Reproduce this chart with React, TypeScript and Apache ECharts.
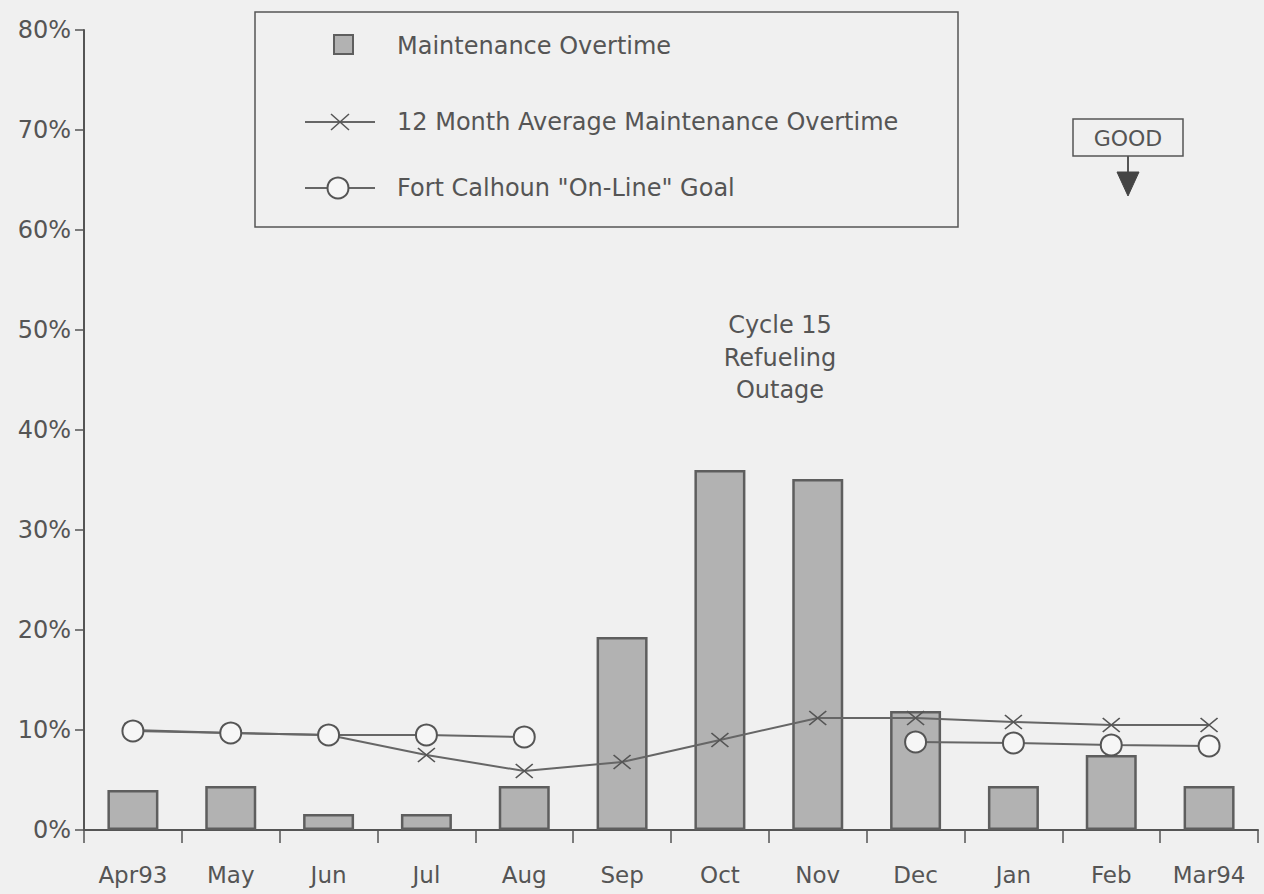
import React, { useEffect, useRef } from "react";
import * as echarts from "echarts";

const months = ["Apr93", "May", "Jun", "Jul", "Aug", "Sep", "Oct", "Nov", "Dec", "Jan", "Feb", "Mar94"];
const overtime = [4.0, 4.4, 1.6, 1.6, 4.4, 19.3, 36.0, 35.1, 11.9, 4.4, 7.5, 4.4];
const avg12 = [10.0, 9.7, 9.5, 7.5, 5.9, 6.8, 9.0, 11.2, 11.2, 10.8, 10.5, 10.5];
const goal: (number | null)[] = [9.9, 9.7, 9.5, 9.5, 9.3, null, null, null, 8.8, 8.7, 8.5, 8.4];
const yTicks = { min: 0, max: 80, interval: 10 };

const FONT = "DejaVu Sans";
const INK = "#555555";
const BG = "#f0f0f0";
const BARFILL = "#b2b2b2";
const XPATH = "path://M0,0L16,13M16,0L0,13";

export default function App() {
  const ref = useRef<HTMLDivElement>(null);
  useEffect(() => {
    if (!ref.current) return;
    const chart = echarts.init(ref.current, null, { renderer: "svg" });
    const txt = (text: string, x: number, y: number, size = 24, align = "left") => ({
      type: "text",
      x,
      y,
      style: {
        text,
        font: `${size}px "${FONT}"`,
        fill: INK,
        textAlign: align,
        textVerticalAlign: "middle",
      },
    });
    chart.setOption({
      animation: false,
      backgroundColor: BG,
      textStyle: { fontFamily: FONT, color: INK },
      grid: { left: 84, top: 30, right: 6, bottom: 64, containLabel: false },
      xAxis: {
        type: "category",
        data: months,
        boundaryGap: true,
        axisLine: { lineStyle: { color: INK, width: 2 } },
        axisTick: { show: true, length: 13, lineStyle: { color: INK, width: 1.5 } },
        axisLabel: { color: INK, fontSize: 23, fontFamily: FONT, margin: 33, interval: 0 },
        splitLine: { show: false },
      },
      yAxis: {
        type: "value",
        min: yTicks.min,
        max: yTicks.max,
        interval: yTicks.interval,
        axisLine: { show: true, lineStyle: { color: INK, width: 2 } },
        axisTick: { show: true, length: 9, lineStyle: { color: INK, width: 1.5 } },
        axisLabel: { color: INK, fontSize: 24, fontFamily: FONT, margin: 13, formatter: "{value}%" },
        splitLine: { show: false },
      },
      series: [
        {
          name: "Maintenance Overtime",
          type: "bar",
          data: overtime,
          barWidth: 51,
          itemStyle: { color: BARFILL, borderColor: "#5e5e5e", borderWidth: 2.5 },
          z: 2,
        },
        {
          name: "12 Month Average Maintenance Overtime",
          type: "line",
          data: avg12,
          symbol: XPATH,
          symbolSize: [17, 14],
          showAllSymbol: true,
          itemStyle: { color: "none", borderColor: INK, borderWidth: 1.5 },
          lineStyle: { color: "#666", width: 2 },
          z: 3,
        },
        {
          name: "Fort Calhoun \"On-Line\" Goal",
          type: "line",
          data: goal,
          connectNulls: false,
          symbol: "circle",
          symbolSize: 21,
          showAllSymbol: true,
          itemStyle: { color: "#f6f6f6", borderColor: INK, borderWidth: 2 },
          lineStyle: { color: "#666", width: 2 },
          z: 4,
        },
      ],
      graphic: [
        {
          type: "rect",
          shape: { x: 255, y: 12, width: 703, height: 215 },
          style: { fill: "none", stroke: INK, lineWidth: 1.5 },
        },
        {
          type: "rect",
          shape: { x: 334, y: 35, width: 19, height: 19 },
          style: { fill: BARFILL, stroke: "#5e5e5e", lineWidth: 2 },
        },
        txt("Maintenance Overtime", 397, 46),
        {
          type: "line",
          shape: { x1: 305, y1: 122, x2: 375, y2: 122 },
          style: { stroke: "#666", lineWidth: 2 },
        },
        {
          type: "line",
          shape: { x1: 331, y1: 114, x2: 349, y2: 130 },
          style: { stroke: INK, lineWidth: 1.5 },
        },
        {
          type: "line",
          shape: { x1: 349, y1: 114, x2: 331, y2: 130 },
          style: { stroke: INK, lineWidth: 1.5 },
        },
        txt("12 Month Average Maintenance Overtime", 397, 122),
        {
          type: "line",
          shape: { x1: 305, y1: 188, x2: 375, y2: 188 },
          style: { stroke: "#666", lineWidth: 2 },
        },
        {
          type: "circle",
          shape: { cx: 338, cy: 188, r: 10.5 },
          style: { fill: "#f6f6f6", stroke: INK, lineWidth: 2 },
        },
        txt("Fort Calhoun \"On-Line\" Goal", 397, 188),
        {
          type: "rect",
          shape: { x: 1073, y: 119, width: 110, height: 37 },
          style: { fill: "none", stroke: INK, lineWidth: 1.5 },
        },
        txt("GOOD", 1128, 138, 22, "center"),
        {
          type: "line",
          shape: { x1: 1128, y1: 156, x2: 1128, y2: 173 },
          style: { stroke: INK, lineWidth: 2 },
        },
        {
          type: "polygon",
          shape: { points: [[1117, 172], [1139, 172], [1128, 196]] },
          style: { fill: "#444", stroke: "#444", lineWidth: 1 },
        },
        txt("Cycle 15", 780, 325, 24, "center"),
        txt("Refueling", 780, 358, 24, "center"),
        txt("Outage", 780, 390, 24, "center"),
      ],
    });
    return () => chart.dispose();
  }, []);
  return (
    <div
      ref={ref}
      style={{ position: "absolute", left: 0, top: 0, width: 1264, height: 894 }}
    />
  );
}
